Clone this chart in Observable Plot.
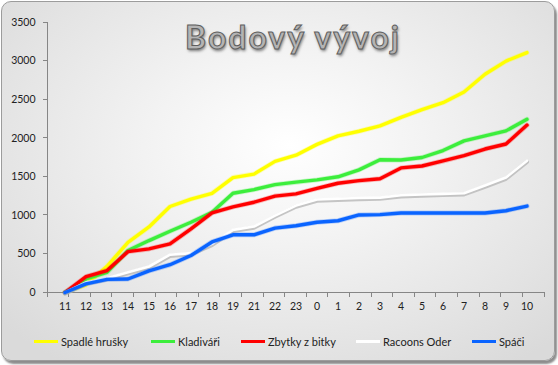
<!DOCTYPE html>
<html>
<head>
<meta charset="utf-8">
<script src="https://cdn.jsdelivr.net/npm/d3@7"></script>
<script src="https://cdn.jsdelivr.net/npm/@observablehq/plot@0.6"></script>
<style>
html, body { margin: 0; padding: 0; background: #ffffff; }
#wrap { position: relative; width: 558px; height: 365px; overflow: hidden; font-family: Lato, "Open Sans", sans-serif; }
#frame { position: absolute; left: 1px; top: 1px; width: 552px; height: 358px; border: 1px solid #9c9c9c; border-radius: 10px;
  background: radial-gradient(ellipse 70% 75% at 52% 40%, #ffffff 0%, #f3f3f3 35%, #e4e4e4 75%, #dadada 100%);
  box-shadow: 2px 3px 2px rgba(0,0,0,0.45); }
#chart { position: absolute; left: 0; top: 0; }
#title { position: absolute; left: 293px; top: 21px; transform: translateX(-50%); white-space: nowrap;
  font-family: Lato, sans-serif; font-weight: 700; font-size: 32px; line-height: 32px; letter-spacing: 2px;
  color: #b4b4b4; -webkit-text-stroke: 1px #5e5e5e; text-shadow: 1px 2px 3px rgba(0,0,0,0.5); }
.leg { position: absolute; top: 333px; height: 16px; display: flex; align-items: center; font-size: 11px; color: #222; white-space: nowrap; }
.leg .sw { width: 24px; height: 3px; margin-right: 3px; }
</style>
</head>
<body>
<div id="wrap">
  <div id="frame"></div>
  <div id="chart"></div>
  <div id="title">Bodový vývoj</div>
</div>
<script>
// ---- data ----
const categories = ["11","12","13","14","15","16","17","18","19","21","22","23","0","1","2","3","4","5","6","7","8","9","10"];
const seriesNames = ["Spadlé hrušky", "Kladiváři", "Zbytky z bitky", "Racoons Oder", "Spáči"];
const spadleHrusky = [0, 100, 340, 650, 850, 1115, 1210, 1285, 1490, 1535, 1700, 1780, 1920, 2030, 2090, 2160, 2270, 2370, 2460, 2600, 2830, 3000, 3110];
const kladivari    = [0, 175, 260, 544, 673, 794, 911, 1040, 1286, 1334, 1398, 1430, 1460, 1500, 1590, 1720, 1718, 1750, 1840, 1965, 2030, 2095, 2245];
const zbytkyZBitky = [0, 205, 285, 530, 565, 630, 825, 1032, 1110, 1170, 1250, 1278, 1350, 1416, 1450, 1475, 1615, 1640, 1705, 1775, 1860, 1925, 2170];
const racoonsOder  = [0, 130, 185, 263, 337, 490, 510, 630, 812, 855, 997, 1127, 1205, 1215, 1225, 1230, 1260, 1270, 1278, 1286, 1386, 1490, 1709];
const spaci        = [0, 112, 170, 175, 280, 360, 480, 655, 748, 748, 835, 865, 910, 930, 1005, 1010, 1030, 1030, 1030, 1030, 1030, 1060, 1120];
const yTicks = [0, 500, 1000, 1500, 2000, 2500, 3000, 3500];

// ---- styles ----
const seriesValues = [spadleHrusky, kladivari, zbytkyZBitky, racoonsOder, spaci];
const seriesColors = ["#ffff00", "#3cee3c", "#ff0000", "#ffffff", "#0a64ff"];
const legendLeft = [34, 151, 241, 356, 472];

const rows = seriesNames.map((name, s) => seriesValues[s].map((v, i) => ({series: name, cat: categories[i], value: v})));

const marks = [];
rows.forEach((r, s) => {
  if (seriesColors[s] === "#ffffff") {
    marks.push(Plot.line(r, {x: "cat", y: "value", stroke: "#b8b8b8", strokeWidth: 4, strokeOpacity: 0.8, dy: 1.2}));
    marks.push(Plot.line(r, {x: "cat", y: "value", stroke: seriesColors[s], strokeWidth: 2.6}));
  } else {
    marks.push(Plot.line(r, {x: "cat", y: "value", stroke: seriesColors[s], strokeWidth: 5, strokeOpacity: 0.25}));
    marks.push(Plot.line(r, {x: "cat", y: "value", stroke: seriesColors[s], strokeWidth: 3.4}));
  }
});

const chart = Plot.plot({
  width: 558, height: 365,
  marginLeft: 47, marginRight: 14, marginTop: 22, marginBottom: 73,
  style: {background: "transparent", fontFamily: "Lato, sans-serif", fontSize: "10.5px", color: "#222"},
  x: {type: "band", domain: categories, padding: 0, tickSize: 0, tickPadding: 10, label: null},
  y: {domain: [0, 3500], ticks: yTicks, tickSize: 0, tickPadding: 12, tickFormat: d => String(d), label: null},
  marks
});
document.getElementById("chart").appendChild(chart);

// axis lines and tick marks from the plot's own scales
const sx = chart.scale("x"), sy = chart.scale("y");
const xb = d3.scaleBand().domain(sx.domain).range(sx.range)
  .paddingInner(sx.paddingInner ?? 0).paddingOuter(sx.paddingOuter ?? 0).align(sx.align ?? 0.5);
const y = d3.scaleLinear().domain(sy.domain).range(sy.range);
const svg = d3.select(chart);
const g = svg.insert("g", ":first-child").attr("stroke", "#868686").attr("stroke-width", 1).attr("shape-rendering", "crispEdges");
const x0 = xb.range()[0], x1 = xb.range()[1];
g.append("line").attr("x1", x0).attr("x2", x0).attr("y1", y(0)).attr("y2", y(yTicks[yTicks.length - 1]));
yTicks.forEach(t => g.append("line").attr("x1", x0 - 4).attr("x2", x0).attr("y1", y(t)).attr("y2", y(t)));
g.append("line").attr("x1", x0).attr("x2", x1).attr("y1", y(0)).attr("y2", y(0));
categories.forEach(c => g.append("line").attr("x1", xb(c)).attr("x2", xb(c)).attr("y1", y(0)).attr("y2", y(0) + 5));
g.append("line").attr("x1", x1).attr("x2", x1).attr("y1", y(0)).attr("y2", y(0) + 5);

// legend
const wrap = document.getElementById("wrap");
seriesNames.forEach((name, s) => {
  const item = document.createElement("div");
  item.className = "leg";
  item.style.left = legendLeft[s] + "px";
  const sw = document.createElement("span");
  sw.className = "sw";
  sw.style.background = seriesColors[s];
  const tx = document.createElement("span");
  tx.textContent = name;
  item.appendChild(sw); item.appendChild(tx);
  wrap.appendChild(item);
});
</script>
</body>
</html>
